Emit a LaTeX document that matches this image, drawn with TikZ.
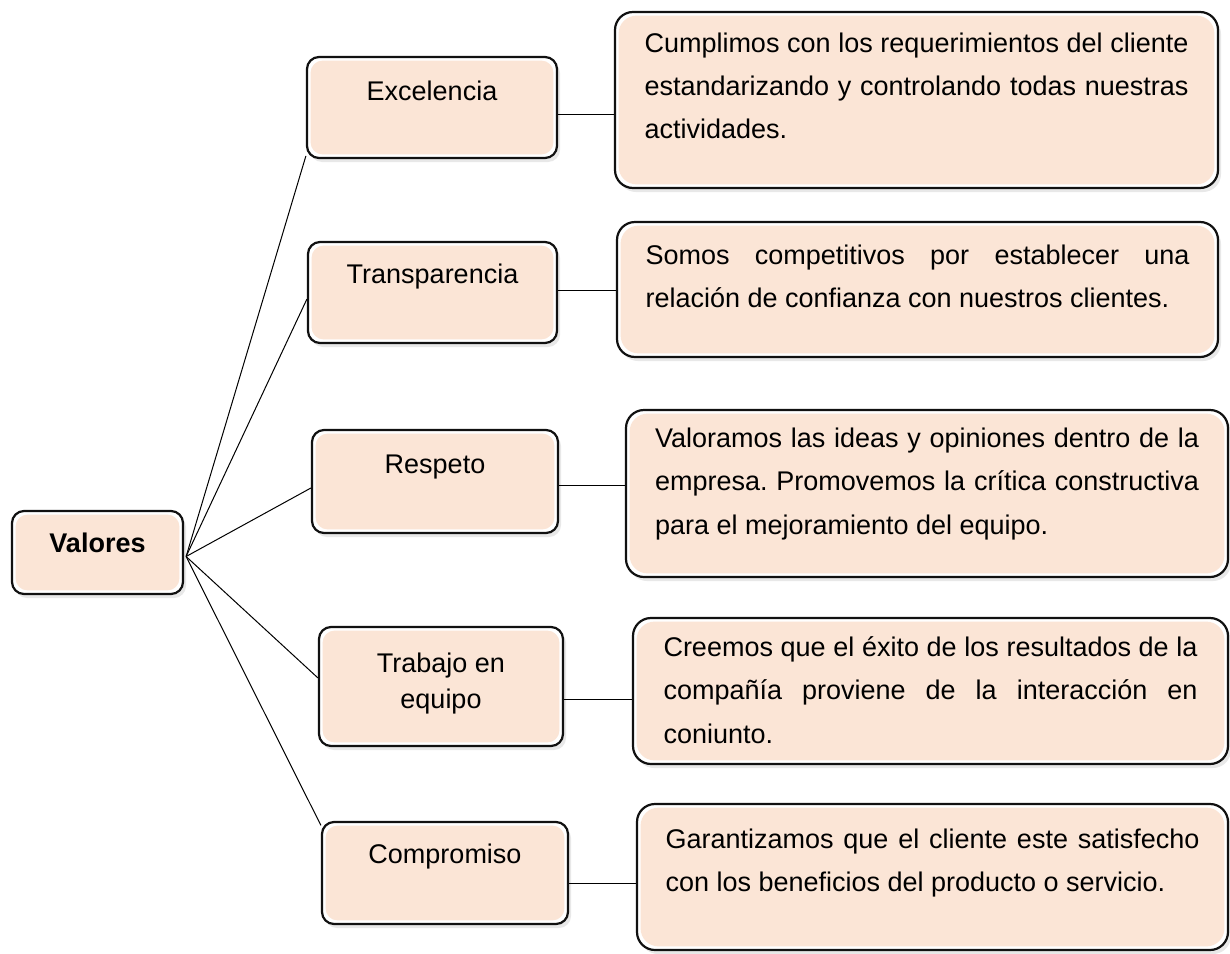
\documentclass[tikz,border=0pt]{standalone}
\usepackage{fontspec}
\setmainfont{Liberation Sans}
\usepackage{xcolor}
\usepackage{tikz}
\usetikzlibrary{calc,shadows}
\definecolor{peach}{HTML}{FBE5D6}
\definecolor{edge}{HTML}{111111}
\hyphenpenalty=10000
\exhyphenpenalty=10000
\frenchspacing

\begin{document}
\begin{tikzpicture}[
    x=0.5pt, y=-0.5pt,
    card/.style={draw=edge, line width=1.1pt, fill=white, inner sep=0pt, rounded corners=#1,
        drop shadow={opacity=0.18, shadow xshift=1.5pt, shadow yshift=-2pt},
        path picture={\fill[peach, rounded corners=#1]
            ([shift={(1.8pt,-1.8pt)}]path picture bounding box.north west) rectangle
            ([shift={(-1.8pt,1.8pt)}]path picture bounding box.south east);}},
    root/.style={card=6pt, minimum width=85.5pt, align=center, font=\fontsize{13.5}{18}\selectfont\bfseries},
    value/.style={card=6pt, minimum width=125pt, align=center, font=\fontsize{13.5}{18}\selectfont},
    desc/.style={card=9pt, align=justify, font=\fontsize{13.5}{21.75}\selectfont},
    link/.style={draw=black, line width=0.5pt}
]
    \useasboundingbox (0,0) rectangle (1230,953);

    % Root
    \node[root, text height=20.5pt, text depth=21pt] (val) at (97.5,552.5) {Valores};

    % Values
    \node[value, text height=21.5pt, text depth=29pt] (exc) at (432,107.5) {Excelencia};
    \node[value, minimum width=124.5pt, text height=20.5pt, text depth=30pt] (tra) at (432.5,292.5) {Transparencia};
    \node[value, minimum width=123pt, text height=21.5pt, text depth=30pt] (res) at (435,481.5) {Respeto};
    \node[value, minimum width=122pt, text height=40.5pt, text depth=19pt] (trab) at (441,686.5) {Trabajo en\\equipo};
    \node[value, minimum width=123pt, text height=20.5pt, text depth=30.5pt] (com) at (445,873) {Compromiso};

    % Descriptions
    \node[desc, text width=272pt, minimum width=301.5pt, text height=20pt, text depth=68pt] (d1) at (916.5,100)
        {Cumplimos con los requerimientos del cliente\linebreak estandarizando y controlando todas nuestras\linebreak actividades.};
    \node[desc, text width=272pt, minimum width=300.5pt, text height=21pt, text depth=46.5pt] (d2) at (917.5,289.5)
        {Somos competitivos por establecer una\linebreak relación de confianza con nuestros clientes.};
    \node[desc, text width=272pt, minimum width=301pt, text height=18.5pt, text depth=65pt] (d3) at (927,493.5)
        {Valoramos las ideas y opiniones dentro de la\linebreak empresa. Promovemos la crítica constructiva\linebreak para el mejoramiento del equipo.};
    \node[desc, text width=267pt, minimum width=297.5pt, text height=19pt, text depth=54pt] (d4) at (930.5,691)
        {Creemos que el éxito de los resultados de la\linebreak compañía proviene de la interacción en\linebreak coniunto.};
    \node[desc, text width=267pt, minimum width=295.5pt, text height=22pt, text depth=51pt] (d5) at (932.5,877)
        {Garantizamos que el cliente este satisfecho\linebreak con los beneficios del producto o servicio.};

    % Connections
    \coordinate (hub) at ($(val.east)+(2,4)$);
    \draw[link] (hub) -- (exc.201);
    \draw[link] (hub) -- (tra.183);
    \draw[link] (hub) -- (res.183);
    \draw[link] (hub) -- (trab.176);
    \draw[link] (hub) -- (com.159);

    \draw[link] (exc.-3) -- (d1.west |- exc.-3);
    \draw[link] (tra.1) -- (d2.west |- tra.1);
    \draw[link] (res.-2) -- (d3.west |- res.-2);
    \draw[link] (trab.-6) -- (d4.west |- trab.-6);
    \draw[link] (com.-5) -- (d5.west |- com.-5);
\end{tikzpicture}
\end{document}
